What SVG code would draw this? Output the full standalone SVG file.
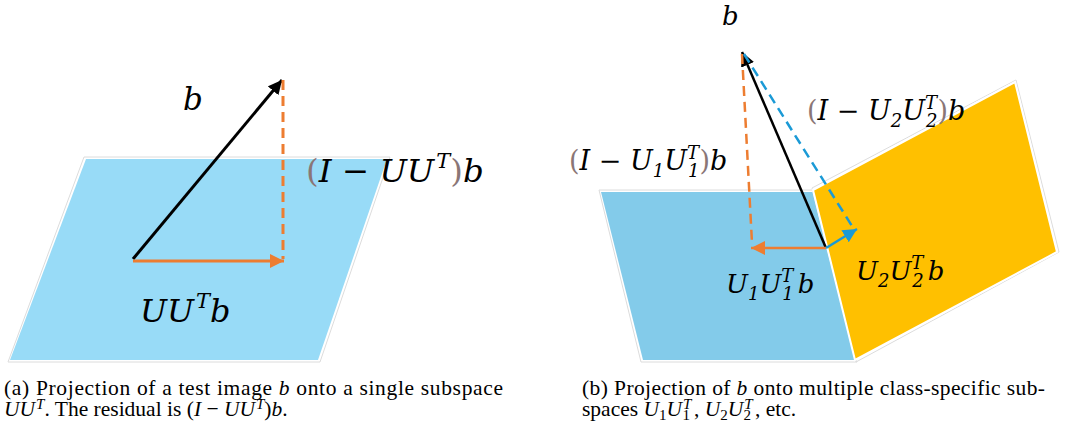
<svg xmlns="http://www.w3.org/2000/svg" width="1065" height="430" viewBox="0 0 1065 430">
<style>
.m{font-family:"DejaVu Serif",serif;font-style:italic;fill:#000}
.p{fill:#8a7676;font-style:normal}
.cap{font-family:"Liberation Serif","Times New Roman",serif;font-size:21.5px;fill:#000}
.ci{font-style:italic}
.edge{stroke:#dcdcdc;stroke-width:1;fill:none}
</style>
<defs>
<marker id="ab" markerUnits="userSpaceOnUse" markerWidth="16" markerHeight="14" refX="14" refY="7" orient="auto"><path d="M0,0 L14,7 L0,14 Z" fill="#000"/></marker>
<marker id="ao" markerUnits="userSpaceOnUse" markerWidth="16" markerHeight="14" refX="14" refY="7" orient="auto"><path d="M0,0 L14,7 L0,14 Z" fill="#ED7D31"/></marker>
<marker id="ac" markerUnits="userSpaceOnUse" markerWidth="16" markerHeight="14" refX="14" refY="7" orient="auto"><path d="M0,0 L14,7 L0,14 Z" fill="#1B9AD6"/></marker>
</defs>

<g id="plane-a">
<polygon points="84,157 390,157 320,362 8,362" class="edge"/>
<polygon points="86,159 387,159 318,360 10,360" fill="#98DBF7"/>
</g>

<g id="plane-b1">
<polygon points="599,190 813,190 857,362 641,362" class="edge"/>
<polygon points="601,192 813,192 855,360 643,360" fill="#83CBEA"/>
</g>
<g id="plane-b2">
<polygon points="812,188 1016,80 1059,252 856,362" class="edge"/>
<polygon points="813,190 1015,82 1057,252 855,360" fill="#FFC000" stroke="#ffffff" stroke-width="2"/>
</g>

<g id="connectors">
<line x1="133" y1="259" x2="282" y2="80" stroke="#000" stroke-width="3" marker-end="url(#ab)"/>
<line x1="283" y1="80" x2="283" y2="259" stroke="#ED7D31" stroke-width="3" stroke-dasharray="10,6"/>
<line x1="133" y1="261" x2="284" y2="261" stroke="#ED7D31" stroke-width="3" marker-end="url(#ao)"/>

<line x1="826" y1="248" x2="742" y2="52" stroke="#000" stroke-width="2.5" marker-end="url(#ab)"/>
<line x1="742" y1="54" x2="752" y2="243" stroke="#ED7D31" stroke-width="2.5" stroke-dasharray="10,6"/>
<line x1="744" y1="54" x2="852" y2="226" stroke="#1B9AD6" stroke-width="2.5" stroke-dasharray="10,6"/>
<line x1="826" y1="248" x2="751" y2="248" stroke="#ED7D31" stroke-width="2.5" marker-end="url(#ao)"/>
<line x1="826" y1="248" x2="857" y2="229" stroke="#1B9AD6" stroke-width="2.5" marker-end="url(#ac)"/>
</g>

<g id="labels-a">
<text class="m" x="183" y="110" font-size="31">b</text>
<text class="m" x="306" y="182" font-size="32.5"><tspan class="p">(</tspan>I − UU<tspan dx="2" dy="-14" font-size="21">T</tspan><tspan dy="14" class="p">)</tspan>b</text>
<text class="m" x="140" y="322" font-size="32">UU<tspan dx="2" dy="-14" font-size="21">T</tspan><tspan dy="14">b</tspan></text>
</g>

<g id="labels-b">
<text class="m" x="722" y="25" font-size="26">b</text>
<text class="m" x="807" y="120" font-size="27"><tspan class="p">(</tspan>I − U<tspan dy="7" font-size="18">2</tspan><tspan dy="-7">U</tspan><tspan dy="-11" font-size="18">T</tspan><tspan dx="-11" dy="18" font-size="18">2</tspan><tspan dy="-7" class="p">)</tspan>b</text>
<text class="m" x="569" y="170" font-size="27"><tspan class="p">(</tspan>I − U<tspan dy="7" font-size="18">1</tspan><tspan dy="-7">U</tspan><tspan dy="-11" font-size="18">T</tspan><tspan dx="-11" dy="18" font-size="18">1</tspan><tspan dy="-7" class="p">)</tspan>b</text>
<text class="m" x="726" y="293" font-size="26">U<tspan dy="7" font-size="18">1</tspan><tspan dy="-7">U</tspan><tspan dy="-11" font-size="18">T</tspan><tspan dx="-11" dy="18" font-size="18">1</tspan><tspan dx="4" dy="-7">b</tspan></text>
<text class="m" x="856" y="280" font-size="26">U<tspan dy="7" font-size="18">2</tspan><tspan dy="-7">U</tspan><tspan dy="-11" font-size="18">T</tspan><tspan dx="-11" dy="18" font-size="18">2</tspan><tspan dx="4" dy="-7">b</tspan></text>
</g>

<g id="caption-a">
<text class="cap" x="4" y="395" textLength="499" lengthAdjust="spacing">(a) Projection of a test image <tspan class="ci">b</tspan> onto a single subspace</text>
<text class="cap" x="4" y="416"><tspan class="ci">UU</tspan><tspan class="ci" dx="1" dy="-7" font-size="15">T</tspan><tspan dy="7">. The residual is (</tspan><tspan class="ci">I</tspan> − <tspan class="ci">UU</tspan><tspan class="ci" dx="1" dy="-7" font-size="15">T</tspan><tspan dy="7">)</tspan><tspan class="ci">b</tspan>.</text>
</g>
<g id="caption-b">
<text class="cap" x="582" y="395" textLength="463" lengthAdjust="spacing">(b) Projection of <tspan class="ci">b</tspan> onto multiple class-specific sub-</text>
<text class="cap" x="582" y="416">spaces <tspan class="ci">U</tspan><tspan dy="4" font-size="15">1</tspan><tspan class="ci" dy="-4">U</tspan><tspan class="ci" dx="1" dy="-7" font-size="15">T</tspan><tspan dx="-9" dy="11" font-size="15">1</tspan><tspan dx="4" dy="-4">, </tspan><tspan class="ci">U</tspan><tspan dy="4" font-size="15">2</tspan><tspan class="ci" dy="-4">U</tspan><tspan class="ci" dx="1" dy="-7" font-size="15">T</tspan><tspan dx="-9" dy="11" font-size="15">2</tspan><tspan dx="4" dy="-4">, etc.</tspan></text>
</g>
</svg>
